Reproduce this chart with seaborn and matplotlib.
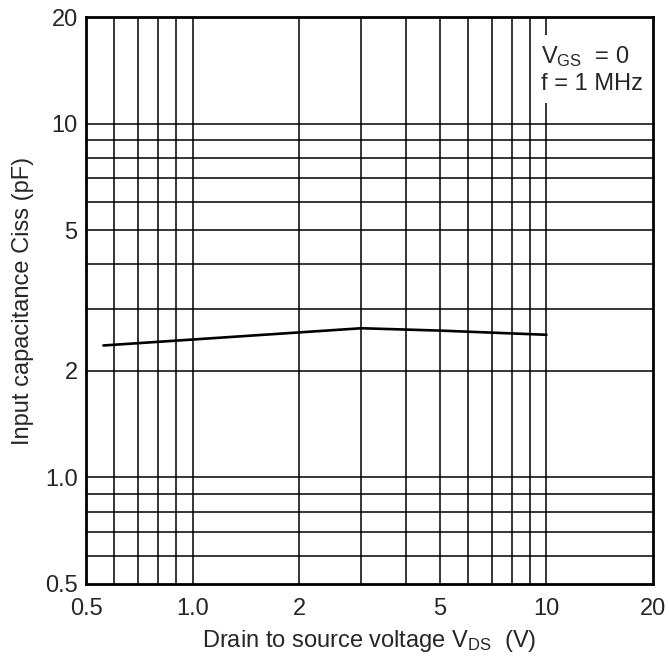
import numpy as np
import pandas as pd
import matplotlib
matplotlib.use("Agg")
import matplotlib.pyplot as plt
import seaborn as sns
from matplotlib.ticker import FixedLocator, FixedFormatter, NullLocator

# --- data ---
vds = [0.56, 3.0, 5.0, 10.0]
ciss = [2.36, 2.64, 2.60, 2.53]

x_ticks = [0.5, 1.0, 2, 5, 10, 20]
x_tick_labels = ["0.5", "1.0", "2", "5", "10", "20"]
y_ticks = [0.5, 1.0, 2, 5, 10, 20]
y_tick_labels = ["0.5", "1.0", "2", "5", "10", "20"]
grid_vals = [0.6, 0.7, 0.8, 0.9, 1, 2, 3, 4, 5, 6, 7, 8, 9, 10]

sns.set_style("white")
plt.rcParams['font.family'] = ['Liberation Sans', 'DejaVu Sans']
plt.rcParams['mathtext.fontset'] = 'custom'
plt.rcParams['mathtext.rm'] = 'Liberation Sans'
plt.rcParams['mathtext.it'] = 'Liberation Sans'

df = pd.DataFrame({'VDS': vds, 'Ciss': ciss})

fig, ax = plt.subplots(figsize=(6.69, 6.68), dpi=100)
fig.subplots_adjust(left=86/669, right=653/669, top=1-17/668, bottom=1-584/668)

ax.set_xscale('log')
ax.set_yscale('log')
ax.set_xlim(0.5, 20)
ax.set_ylim(0.5, 20)

for g in grid_vals:
    ax.axvline(g, color='black', lw=1.1, zorder=1)
    ax.axhline(g, color='black', lw=1.1, zorder=1)

sns.lineplot(data=df, x='VDS', y='Ciss', ax=ax, color='black', lw=1.9, zorder=3)

ax.xaxis.set_major_locator(FixedLocator(x_ticks))
ax.xaxis.set_major_formatter(FixedFormatter(x_tick_labels))
ax.xaxis.set_minor_locator(NullLocator())
ax.yaxis.set_major_locator(FixedLocator(y_ticks))
ax.yaxis.set_major_formatter(FixedFormatter(y_tick_labels))
ax.yaxis.set_minor_locator(NullLocator())
ax.tick_params(axis='both', length=0, labelsize=17)
ax.tick_params(axis='x', pad=10)
ax.tick_params(axis='y', pad=6)

for s in ax.spines.values():
    s.set_linewidth(2.0)
    s.set_color('black')
    s.set_zorder(4)

ax.set_xlabel("Drain to source voltage V$_{\\mathrm{DS}}$  (V)", fontsize=17, labelpad=6)
ax.set_ylabel("Input capacitance Ciss (pF)", fontsize=17, labelpad=8)

ax.text(0.802, 0.952, "V$_{\\mathrm{GS}}$  = 0\nf = 1 MHz", transform=ax.transAxes,
        fontsize=17, va='top', ha='left', zorder=5, linespacing=1.2,
        bbox=dict(facecolor='white', edgecolor='none', pad=6))

plt.savefig("out.png", dpi=100)
